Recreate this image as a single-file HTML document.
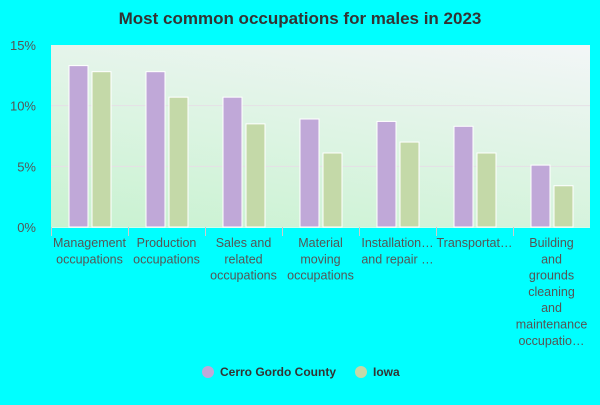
<!DOCTYPE html>
<html><head><meta charset="utf-8"><style>
body{margin:0;background:#00ffff;width:600px;height:400px;overflow:hidden;font-family:"Liberation Sans",sans-serif}
</style></head><body>
<svg width="600" height="400" xmlns="http://www.w3.org/2000/svg">
<defs>
<linearGradient id="bg" x1="0" y1="1" x2="0.6" y2="-0.3">
<stop offset="0" stop-color="#c8f2d0"/><stop offset="1" stop-color="#f6f6fa"/>
</linearGradient>
</defs>
<text x="300" y="24" text-anchor="middle" font-size="17" font-weight="bold" fill="#333">Most common occupations for males in 2023</text>
<rect x="51" y="45" width="539" height="182" fill="url(#bg)"/>
<g id="grid"></g><g id="bars"></g><g id="xlabels"></g>
<g font-size="12" font-weight="bold" fill="#333">
<g><circle cx="208" cy="372" r="6" fill="#c0a8d8"/><text x="220" y="376">Cerro Gordo County</text></g>
<g><circle cx="361" cy="372" r="6" fill="#c4d9a8"/><text x="373" y="376">Iowa</text></g>
</g>
</svg>
<script>
const categories=[["Management","occupations"],["Production","occupations"],["Sales and","related","occupations"],["Material","moving","occupations"],["Installation…","and repair …"],["Transportat…"],["Building","and","grounds","cleaning","and","maintenance","occupatio…"]];
const countyValues=[13.3,12.8,10.7,8.9,8.7,8.3,5.1];
const iowaValues=[12.8,10.7,8.5,6.1,7.0,6.1,3.4];
const yTicks=[0,5,10,15];
const NS="http://www.w3.org/2000/svg";
const x0=51,plotW=539,plotTop=45,plotBot=227,yMax=15;
const bw=plotW/categories.length;
const yScale=v=>plotBot-(plotBot-plotTop)*v/yMax;
function mk(t,a,p){const e=document.createElementNS(NS,t);for(const k in a)e.setAttribute(k,a[k]);p.appendChild(e);return e;}
const grid=document.getElementById('grid'),bars=document.getElementById('bars'),xl=document.getElementById('xlabels');
yTicks.forEach(t=>{
 if(t>0&&t<yMax){const l=mk('line',{x1:x0,x2:x0+plotW,y1:yScale(t),y2:yScale(t),stroke:'#e6e0e6','stroke-width':1},grid);
 
 }
 const tx=mk('text',{x:x0-15,y:yScale(t)+5,'text-anchor':'end','font-size':13,fill:'#555'},grid);tx.textContent=t+'%';
 
 
});
const ax=mk('line',{x1:x0,x2:x0+plotW,y1:plotBot+0.5,y2:plotBot+0.5,stroke:'#cfe','stroke-width':1},grid);


categories.forEach((c,i)=>{
 const cx=x0+bw*(i+0.5);
 const tk=mk('line',{x1:x0+bw*i+0.5,x2:x0+bw*i+0.5,y1:plotBot,y2:plotBot+9,stroke:'#ccc'},grid);
 
 
 const b1=mk('rect',{x:cx-20.5,y:yScale(countyValues[i]),width:19,height:plotBot-yScale(countyValues[i]),fill:'#c0a8d8',stroke:'#fff','stroke-width':1},bars);
 
 
 const b2=mk('rect',{x:cx+2.5,y:yScale(iowaValues[i]),width:19,height:plotBot-yScale(iowaValues[i]),fill:'#c4d9a8',stroke:'#fff','stroke-width':1},bars);
 
 
 const t=mk('text',{x:cx,'text-anchor':'middle','font-size':12.5,fill:'#555'},xl);
 
 
 c.forEach((s,j)=>{const ts=mk('tspan',{x:cx,y:247+j*16.3},t);ts.textContent=s;});
});
</script>
</body></html>
